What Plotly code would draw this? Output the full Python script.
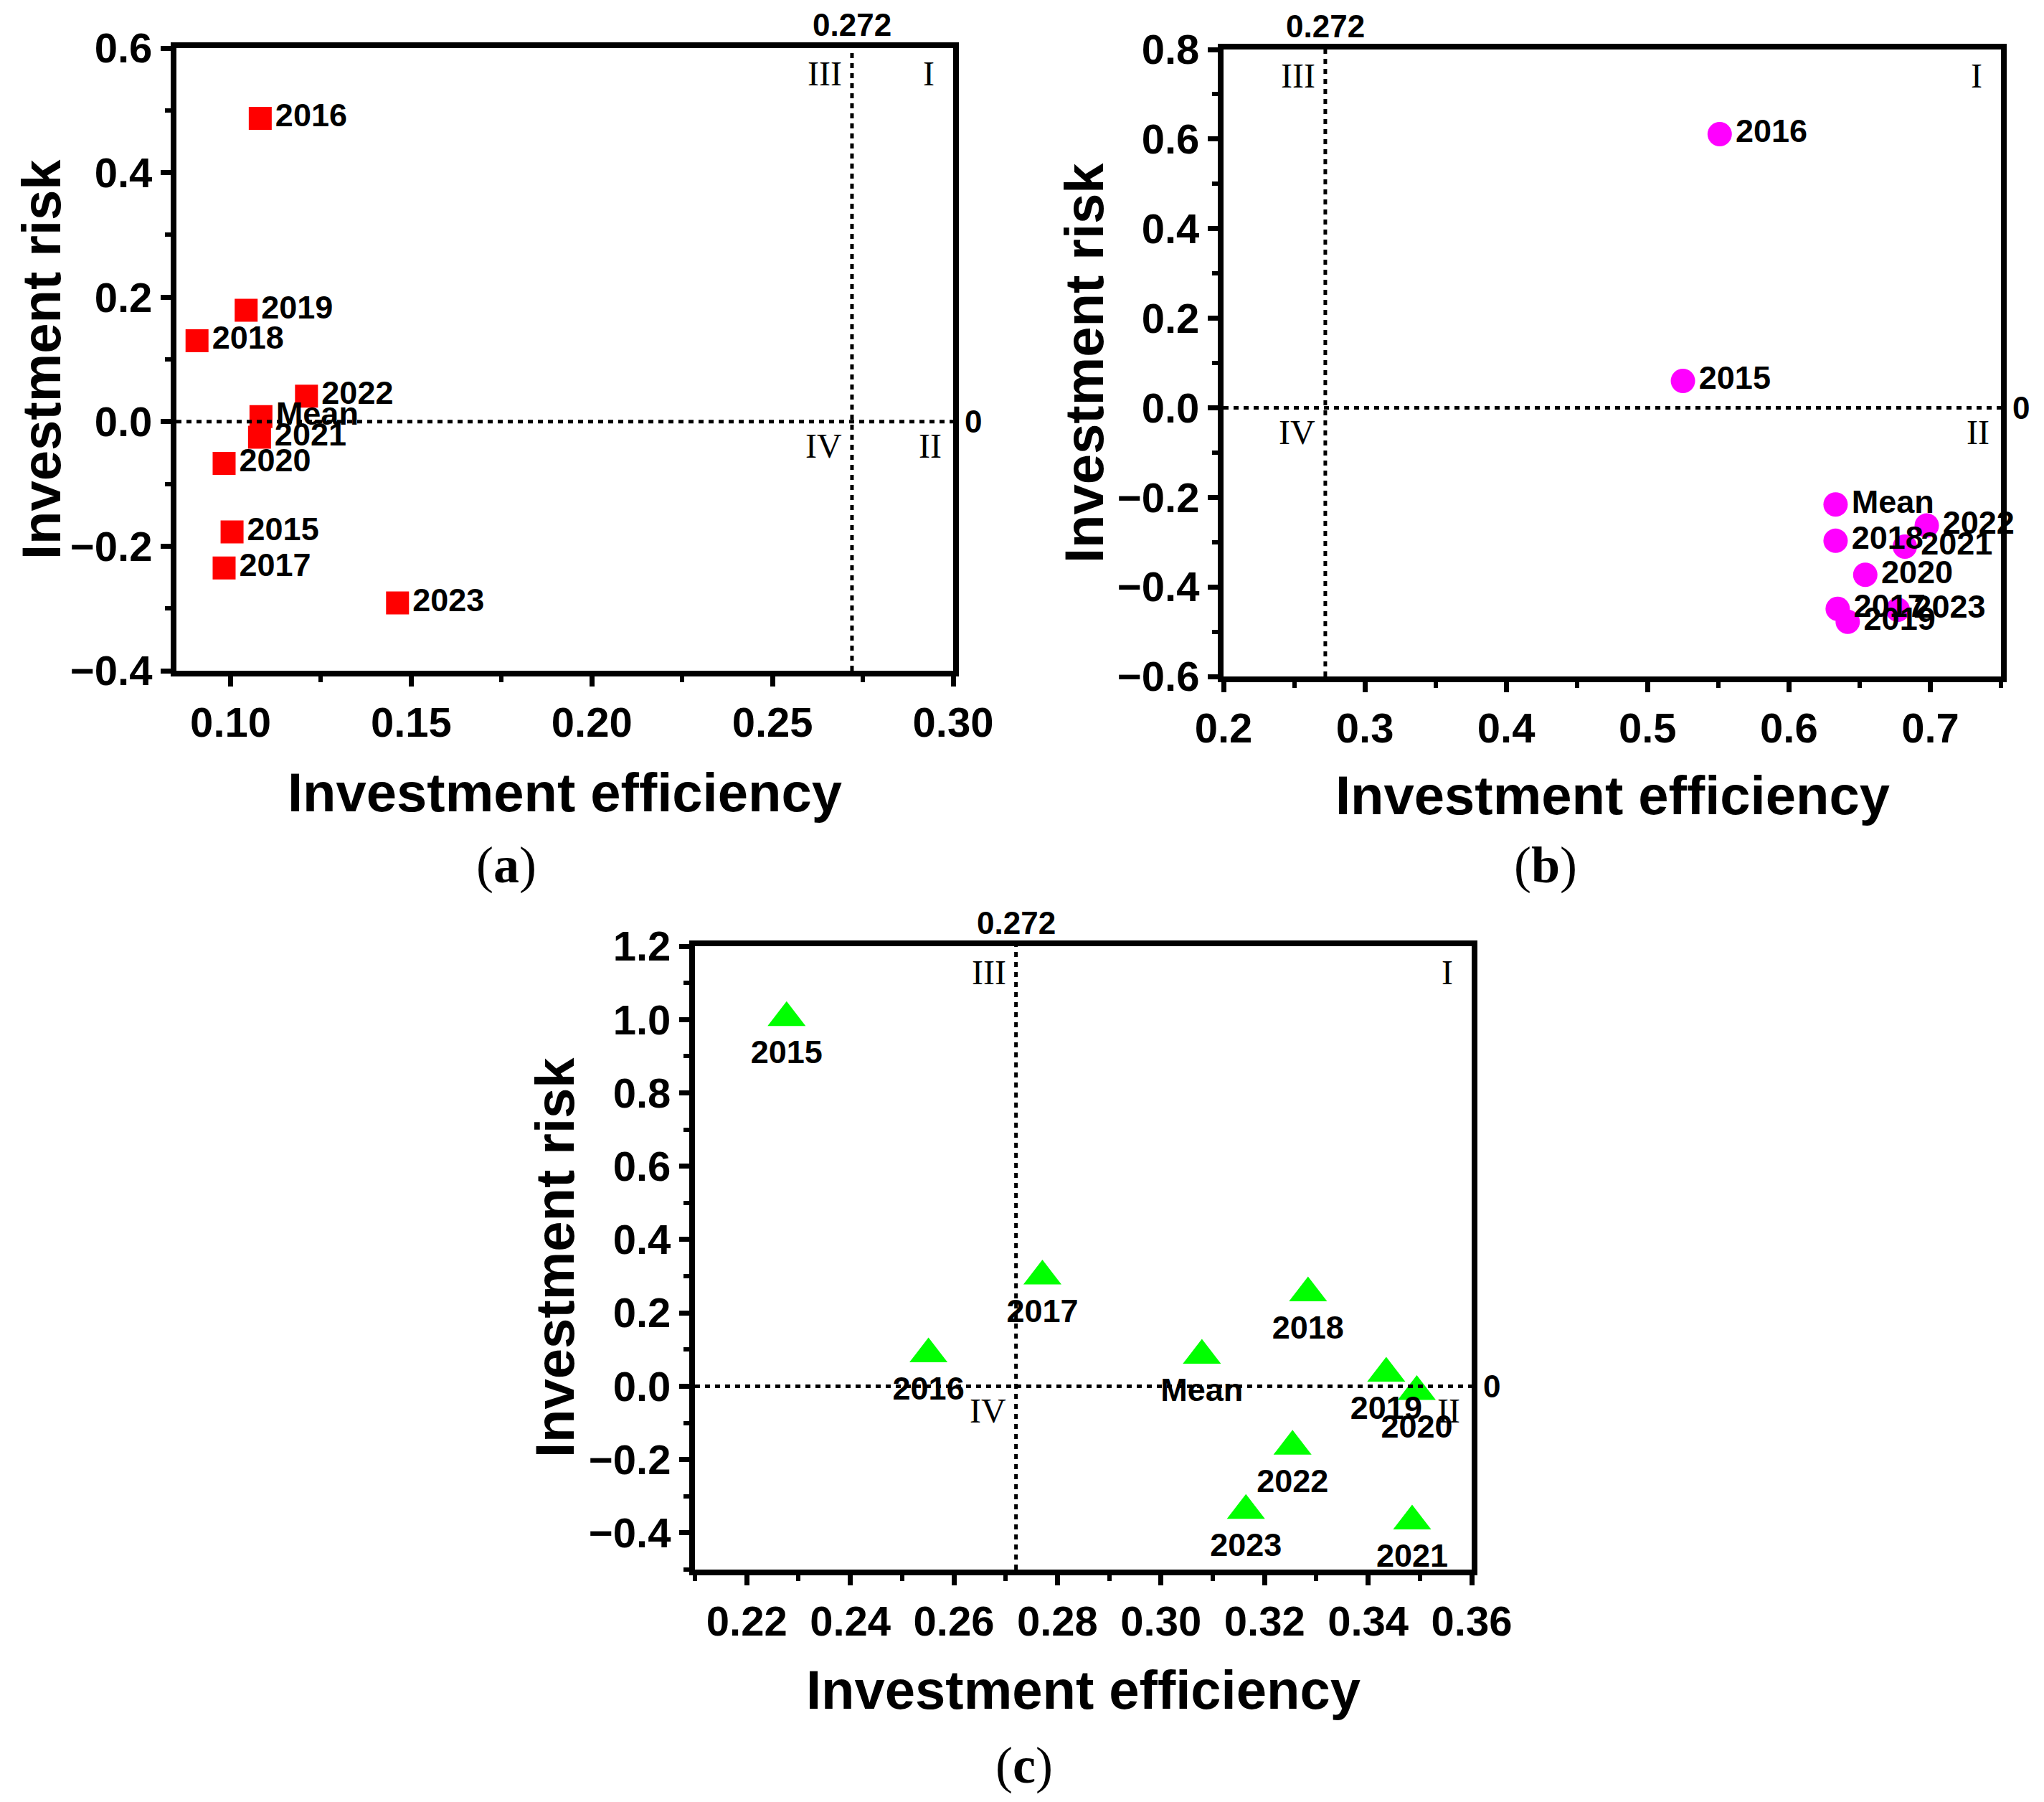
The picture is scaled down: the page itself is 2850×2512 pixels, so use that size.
import plotly.graph_objects as go

W, H = 2850, 2512
BODY = 8  # default page margin around the plot div

# ---- data ----
labels_a = ["2016", "2019", "2018", "2022", "Mean", "2021", "2020", "2015", "2017", "2023"]
eff_a = [0.1082, 0.1043, 0.0907, 0.1210, 0.1084, 0.1080, 0.0982, 0.1004, 0.0982, 0.1462]
risk_a = [0.487, 0.179, 0.130, 0.041, 0.008, -0.025, -0.067, -0.177, -0.235, -0.291]

labels_b = ["2016", "2015", "Mean", "2022", "2018", "2021", "2020", "2017", "2023", "2019"]
eff_b = [0.551, 0.525, 0.633, 0.6975, 0.633, 0.682, 0.654, 0.6345, 0.677, 0.6416]
risk_b = [0.611, 0.060, -0.216, -0.263, -0.297, -0.310, -0.373, -0.449, -0.451, -0.478]

labels_c = ["2015", "2016", "2017", "Mean", "2018", "2019", "2020", "2022", "2023", "2021"]
eff_c = [0.2277, 0.2551, 0.2771, 0.3079, 0.3284, 0.3435, 0.3494, 0.3254, 0.3164, 0.3485]
risk_c = [1.005, 0.088, 0.300, 0.084, 0.254, 0.035, -0.015, -0.164, -0.339, -0.368]

threshold = 0.272

FONT = "Liberation Sans"
SERIF = "Liberation Serif"


def px_x(v):
    return (v - BODY) / W


def px_y(v):
    return 1 - (v - BODY) / H


def axis(dom, rng, dtick, minor, fmt):
    return dict(
        domain=dom, range=rng, dtick=dtick, tick0=0, tickformat=fmt, automargin=False,
        showline=True, linewidth=8, linecolor="black", mirror=True,
        ticks="outside", ticklen=14, tickwidth=7, tickcolor="black",
        tickfont=dict(family=FONT, size=58, color="black", weight="bold"),
        minor=dict(dtick=minor, ticks="outside", ticklen=8, tickwidth=6, tickcolor="black", showgrid=False),
        showgrid=False, zeroline=False,
    )


fig = go.Figure()

fig.add_trace(go.Scatter(
    x=eff_a, y=risk_a, text=labels_a, mode="markers+text", textposition="middle right",
    marker=dict(symbol="square", size=32, color="#FF0000"),
    textfont=dict(family=FONT, size=45, color="black", weight="bold"),
    xaxis="x", yaxis="y", showlegend=False, cliponaxis=False))

fig.add_trace(go.Scatter(
    x=eff_b, y=risk_b, text=labels_b, mode="markers+text", textposition="middle right",
    marker=dict(symbol="circle", size=34, color="#FF00FF"),
    textfont=dict(family=FONT, size=45, color="black", weight="bold"),
    xaxis="x2", yaxis="y2", showlegend=False, cliponaxis=False))

fig.add_trace(go.Scatter(
    x=eff_c, y=risk_c, text=labels_c, mode="markers+text", textposition="bottom center",
    marker=dict(symbol="triangle-up", size=46, color="#00FF00"),
    textfont=dict(family=FONT, size=45, color="black", weight="bold"),
    xaxis="x3", yaxis="y3", showlegend=False, cliponaxis=False))

fig.update_layout(
    width=W, height=H, margin=dict(l=0, r=0, t=0, b=0),
    paper_bgcolor="white", plot_bgcolor="white",
    xaxis=axis([px_x(246), px_x(1329)], [0.085, 0.30], 0.05, 0.025, ".2f"),
    yaxis=axis([px_y(935), px_y(67)], [-0.4, 0.6], 0.2, 0.1, ".1f"),
    xaxis2=axis([px_x(1706), px_x(2790)], [0.2, 0.75], 0.1, 0.05, ".1f"),
    yaxis2=axis([px_y(943), px_y(69)], [-0.6, 0.8], 0.2, 0.1, ".1f"),
    xaxis3=axis([px_x(969), px_x(2052)], [0.21, 0.36], 0.02, 0.01, ".2f"),
    yaxis3=axis([px_y(2188), px_y(1319)], [-0.5, 1.2], 0.2, 0.1, ".1f"),
)
fig.layout.xaxis.anchor = "y"
fig.layout.yaxis.anchor = "x"
fig.layout.xaxis2.anchor = "y2"
fig.layout.yaxis2.anchor = "x2"
fig.layout.xaxis3.anchor = "y3"
fig.layout.yaxis3.anchor = "x3"

dotted = dict(color="black", width=5, dash="7px,7px")
for xr, yr in [("x", "y"), ("x2", "y2"), ("x3", "y3")]:
    fig.add_shape(type="line", xref=xr, yref=yr + " domain", x0=threshold, x1=threshold, y0=0, y1=1, line=dotted)
    fig.add_shape(type="line", xref=xr + " domain", yref=yr, x0=0, x1=1, y0=0, y1=0, line=dotted)

lab = dict(family=FONT, size=44, color="black", weight="bold")
rom = dict(family=SERIF, size=48, color="black")
ann = []
for xr, yr in [("x", "y"), ("x2", "y2"), ("x3", "y3")]:
    ann.append(dict(x=threshold, y=1, xref=xr, yref=yr + " domain", text="0.272", showarrow=False,
                    xanchor="center", yanchor="bottom", yshift=6, font=lab))
    ann.append(dict(x=1, y=0, xref=xr + " domain", yref=yr, text="0", showarrow=False,
                    xanchor="left", yanchor="middle", xshift=14, font=lab))
    ann.append(dict(x=threshold, y=1, xref=xr, yref=yr + " domain", text="III", showarrow=False,
                    xanchor="right", yanchor="middle", xshift=-12, yshift=-36, font=rom))
    ann.append(dict(x=1, y=1, xref=xr + " domain", yref=yr + " domain", text="I", showarrow=False,
                    xanchor="right", yanchor="middle", xshift=-24, yshift=-36, font=rom))
    ann.append(dict(x=threshold, y=0, xref=xr, yref=yr, text="IV", showarrow=False,
                    xanchor="right", yanchor="middle", xshift=-12, yshift=-34, font=rom))
    ann.append(dict(x=1, y=0, xref=xr + " domain", yref=yr, text="II", showarrow=False,
                    xanchor="right", yanchor="middle", xshift=-14, yshift=-34, font=rom))

title_font = dict(family=FONT, size=76, color="black", weight="bold")
for cx, cy in [(787, 1104), (2248, 1108), (1510, 2355)]:
    ann.append(dict(x=px_x(cx), y=px_y(cy), xref="paper", yref="paper", text="Investment efficiency",
                    showarrow=False, xanchor="center", yanchor="middle", font=title_font))
for cx, cy in [(58, 501), (1512, 506), (773, 1753)]:
    ann.append(dict(x=px_x(cx), y=px_y(cy), xref="paper", yref="paper", text="Investment risk",
                    showarrow=False, xanchor="center", yanchor="middle", textangle=-90, font=title_font))
cap_font = dict(family=SERIF, size=72, color="black")
for t, cx, cy in [("a", 706, 1206), ("b", 2155, 1206), ("c", 1428, 2461)]:
    ann.append(dict(x=px_x(cx), y=px_y(cy), xref="paper", yref="paper", text="(<b>" + t + "</b>)",
                    showarrow=False, xanchor="center", yanchor="middle", font=cap_font))

fig.update_layout(annotations=ann)

fig.write_html("out.html")
